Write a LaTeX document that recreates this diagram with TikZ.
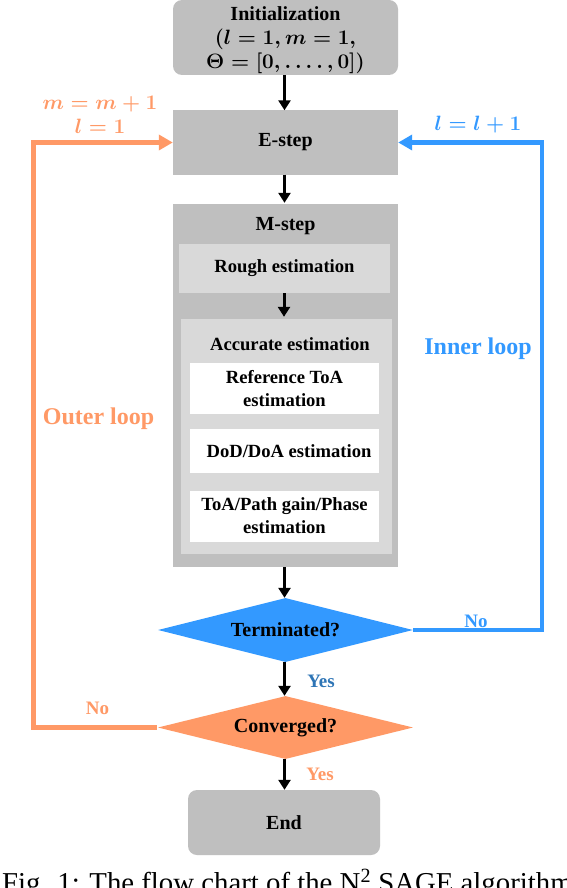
\documentclass[tikz,border=0pt]{standalone}
\usepackage{fontspec}
\setmainfont{Liberation Serif}[BoldFont={Liberation Serif Bold},ItalicFont={Liberation Serif Italic},BoldItalicFont={Liberation Serif Bold Italic}]
\usepackage{amsmath}
\usetikzlibrary{arrows.meta,shapes.geometric}
\definecolor{boxgray}{HTML}{BFBFBF}
\definecolor{innergray}{HTML}{D9D9D9}
\definecolor{loopblue}{HTML}{3399FF}
\definecolor{looporange}{HTML}{FF9966}
\definecolor{yesblue}{HTML}{2E75B6}
\begin{document}
\begin{tikzpicture}[x=1pt,y=-1pt,
  mainfont/.style={font=\fontsize{20}{24}\selectfont\bfseries},
  boldmathfont/.style={font=\fontsize{20}{24}\selectfont\bfseries\boldmath},
  subfont/.style={font=\fontsize{18.6}{23}\selectfont\bfseries},
  graybox/.style={fill=boxgray, draw=none, inner sep=0pt, mainfont, align=center},
  roundbox/.style={graybox, rounded corners=9pt},
  lightbox/.style={fill=innergray, draw=none, inner sep=0pt, subfont, align=center},
  whitebox/.style={fill=white, draw=none, inner sep=0pt, subfont, align=center},
  decision/.style={diamond, aspect=4, inner sep=0pt, mainfont, minimum width=255pt, minimum height=64pt},
  flow/.style={line width=3pt, -{Triangle[length=10pt,width=12pt]}},
  loopline/.style={line width=4.3pt, -{Triangle[length=14pt,width=15pt]}},
  looplabel/.style={font=\fontsize{24}{28}\selectfont\bfseries, anchor=base},
  yesno/.style={font=\fontsize{19}{22}\selectfont\bfseries, anchor=base},
  mathlabel/.style={font=\fontsize{19.5}{23}\selectfont\boldmath, anchor=base}
]
\fill[white] (0,0) rectangle (566,888);
\useasboundingbox (0,0) rectangle (566,888);

% main column
\node[roundbox, minimum width=225pt, minimum height=75pt] (init) at (285.5,37.5) {};
\node[boldmathfont, align=center, inner sep=0pt] (initt) at (285.5,40) {Initialization\\$(l=1,m=1,$\\$\Theta=[0,\dots.\,,0])$};
\node[graybox, minimum width=225pt, minimum height=64pt] (estep) at (285.5,142.5) {E-step};
\node[graybox, minimum width=225pt, minimum height=363pt] (mstep) at (285.5,385.5) {};
\node[mainfont, anchor=base, inner sep=0pt] (mlabel) at (285.5,230) {M-step};
\node[lightbox, minimum width=211pt, minimum height=49pt] (rough) at (284.5,268.5) {Rough estimation};
\node[lightbox, minimum width=211pt, minimum height=235pt] (accurate) at (286.5,436.5) {};
\node[subfont, anchor=base, inner sep=0pt] (alabel) at (290,350) {Accurate estimation};
\node[whitebox, minimum width=189pt, minimum height=51pt] (reftoa) at (284.5,388.5) {Reference ToA\\estimation};
\node[whitebox, minimum width=189pt, minimum height=44pt] (dod) at (284.5,451) {};
\node[subfont, inner sep=0pt] (dodt) at (289,451.5) {DoD/DoA estimation};
\node[whitebox, minimum width=189pt, minimum height=51pt] (toa) at (284.5,516) {ToA/Path gain/Phase\\estimation};
\node[decision, fill=loopblue] (term) at (285.5,630) {Terminated?};
\node[decision, fill=looporange, minimum height=63pt] (conv) at (285.5,727.5) {Converged?};
\node[roundbox, minimum width=192pt, minimum height=65pt] (end) at (284,822.5) {End};

% vertical arrows
\draw[flow] (init.south -| 284.5,0) -- (estep.north -| 284.5,0);
\draw[flow] (estep.south -| 284.5,0) -- ([yshift=1pt]mstep.north -| 284.5,0);
\draw[flow] (rough.south -| 284,0) -- ([yshift=2pt]accurate.north -| 284,0);
\draw[flow] (mstep.south -| 284.5,0) -- (term.north -| 284.5,0);
\draw[flow] (term.south -| 284.5,0) -- (conv.north -| 284.5,0);
\draw[flow] (conv.south -| 284.5,0) -- (end.north -| 284.5,0);

% loops
\coordinate (bx) at (542,143);
\coordinate (ox) at (33.5,143);
\draw[loopline, loopblue] (term.east) -| (bx |- estep.east) -- (estep.east);
\draw[loopline, looporange] ([xshift=-1pt]conv.west) -| (ox |- estep.west) -- (estep.west);

% labels
\node[mathlabel, text=looporange] (mlab) at (100,110) {$m=m+1$};
\node[mathlabel, text=looporange] (llab) at (100,134) {$l=1$};
\node[mathlabel, text=loopblue] (lplab) at (478,130) {$l=l+1$};
\node[looplabel, text=looporange] (outer) at (98.5,424) {Outer loop};
\node[looplabel, text=loopblue] (inner) at (478,354) {Inner loop};
\node[yesno, text=loopblue] (noblue) at (476,627) {No};
\node[yesno, text=looporange] (noorange) at (97.5,714) {No};
\node[yesno, text=yesblue] (yesblue) at (321,687) {Yes};
\node[yesno, text=looporange] (yesorange) at (320,780) {Yes};

% caption (cut off by the page edge, as in the reference)
\node[font=\fontsize{28.8}{32}\selectfont, anchor=base west, inner sep=0pt] (caption) at (2,892) {Fig. 1: The flow chart of the N\textsuperscript{2} SAGE algorithm};
\end{tikzpicture}
\end{document}
